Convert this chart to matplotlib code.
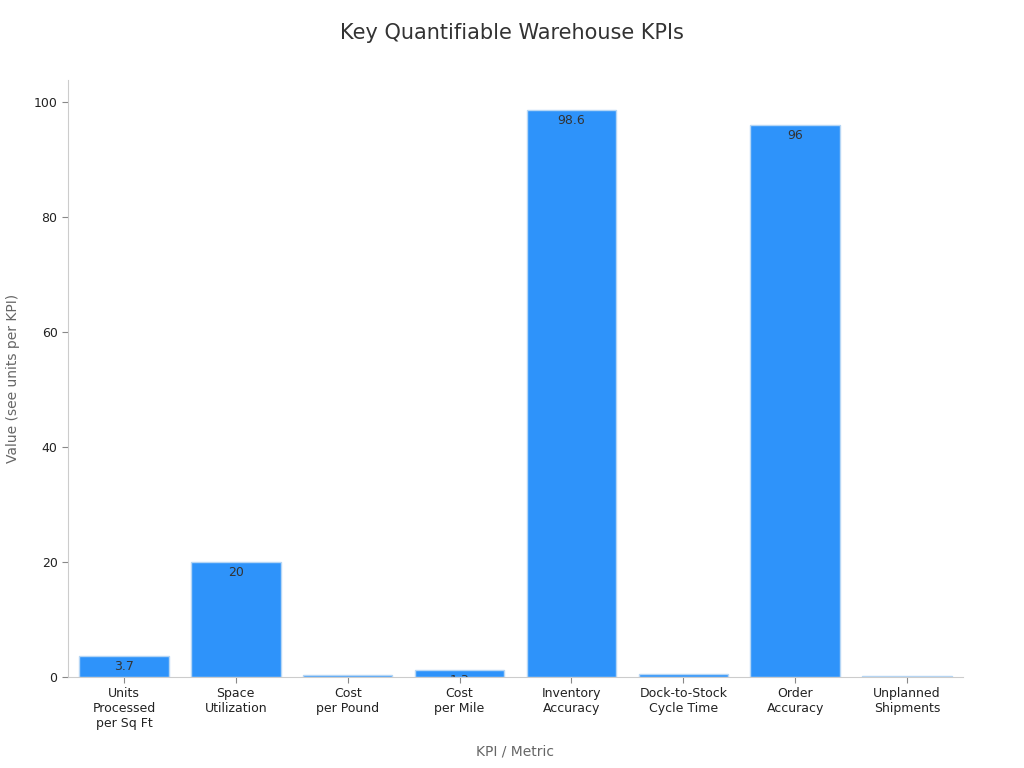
import matplotlib
matplotlib.use("Agg")
import matplotlib.pyplot as plt
import matplotlib.transforms as mtransforms

categories = ["Units\nProcessed\nper Sq Ft", "Space\nUtilization", "Cost\nper Pound",
              "Cost\nper Mile", "Inventory\nAccuracy", "Dock-to-Stock\nCycle Time",
              "Order\nAccuracy", "Unplanned\nShipments"]
values = [3.7, 20, 0.35, 1.3, 98.6, 0.6, 96, 0.15]
labels = ["3.7", "20", "0.35", "1.3", "98.6", "0.6", "96", "0.15"]

fig = plt.figure(figsize=(10.24, 7.68), dpi=100)
ax = fig.add_axes([0.0664, 0.1185, 0.874, 0.7773])

x = list(range(len(categories)))
bars = ax.bar(x, values, width=0.8, color="#2E93FA", edgecolor="#b5d6f5", linewidth=1)

offset = mtransforms.offset_copy(ax.transData, fig=fig, x=0, y=-3, units="points")
for b, lab in zip(bars, labels):
    h = b.get_height()
    ax.text(b.get_x() + b.get_width() / 2, h, lab, transform=offset,
            ha="center", va="top", fontsize=9, color="#333333",
            clip_on=True, clip_box=b.get_window_extent().__class__.null() if False else None,
            clip_path=b)

ax.set_xlim(-0.5, 7.5)
ax.set_ylim(0, 103.8)
ax.set_yticks([0, 20, 40, 60, 80, 100])
ax.set_xticks(x)
ax.set_xticklabels(categories, fontsize=9, color="#222222")
ax.tick_params(axis="y", labelsize=9, labelcolor="#222222", color="#888888", length=4)
ax.tick_params(axis="x", color="#888888", length=4)

for s in ["top", "right"]:
    ax.spines[s].set_visible(False)
for s in ["left", "bottom"]:
    ax.spines[s].set_color("#cccccc")

ax.set_xlabel("KPI / Metric", fontsize=10, color="#666666", labelpad=10)
ax.set_ylabel("Value (see units per KPI)", fontsize=10, color="#666666", labelpad=10)
fig.suptitle("Key Quantifiable Warehouse KPIs", fontsize=15, color="#333333", y=0.97)

fig.savefig("out.png", dpi=100)
